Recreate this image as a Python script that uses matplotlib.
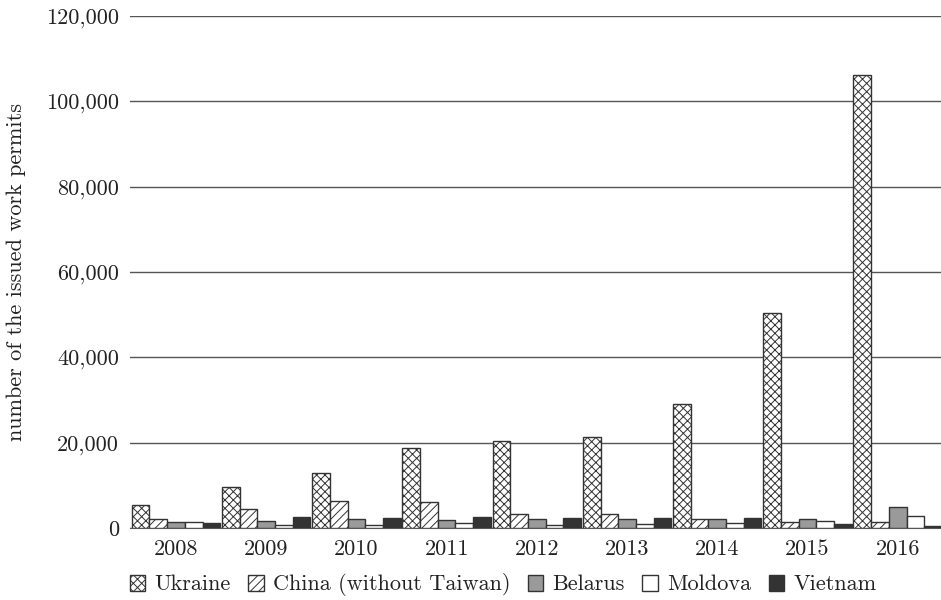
import matplotlib
matplotlib.use('Agg')
import matplotlib.pyplot as plt
import numpy as np
from matplotlib.ticker import FuncFormatter

years = ['2008', '2009', '2010', '2011', '2012', '2013', '2014', '2015', '2016']
ukraine = [5400, 9600, 13000, 18650, 20400, 21300, 29000, 50400, 106200]
china = [2100, 4500, 6300, 6000, 3300, 3300, 2200, 1500, 1500]
belarus = [1400, 1700, 2200, 1950, 2200, 2200, 2200, 2200, 5000]
moldova = [1400, 700, 700, 1150, 700, 950, 1150, 1700, 2900]
vietnam = [1150, 2650, 2400, 2650, 2400, 2400, 2400, 950, 500]

plt.rcParams['font.family'] = ['cmr10', 'DejaVu Serif']
plt.rcParams['axes.formatter.use_mathtext'] = True
plt.rcParams['hatch.color'] = '#555555'
plt.rcParams['hatch.linewidth'] = 0.7

fig = plt.figure(figsize=(9.41, 6), dpi=100)
ax = fig.add_axes([130/941, 72/600, 811/941, 512/600])

x = np.arange(len(years))
w = 0.196
series = [
    ('Ukraine', ukraine, 'white', 'xxxx'),
    ('China (without Taiwan)', china, 'white', '////'),
    ('Belarus', belarus, '#9a9a9a', None),
    ('Moldova', moldova, 'white', None),
    ('Vietnam', vietnam, '#333333', None),
]
for i, (name, vals, col, hatch) in enumerate(series):
    ax.bar(x + (i - 2) * w, vals, w, color=col, hatch=hatch,
           edgecolor='#333333', linewidth=1.0, label=name, zorder=3)

ax.set_ylim(0, 120000)
ax.set_xlim(-0.51, 8.48)
ax.set_yticks(np.arange(0, 120001, 20000))
ax.yaxis.set_major_formatter(FuncFormatter(lambda v, p: f'{int(v):,}'))
ax.set_xticks(x)
ax.set_xticklabels(years)
ax.grid(axis='y', color='#555555', linewidth=1.0, zorder=0)
for s in ['top', 'right', 'left']:
    ax.spines[s].set_visible(False)
ax.spines['bottom'].set_color('#555555')
ax.tick_params(axis='both', length=0, labelsize=16, colors='#222222')
ax.tick_params(axis='y', pad=8)
ax.tick_params(axis='x', pad=8)
ax.set_ylabel('number of the issued work permits', fontsize=16, color='#222222', labelpad=14)

fig.legend(loc='center', bbox_to_anchor=(503/941, 1 - 585/600), ncol=5, frameon=False,
           fontsize=16, handlelength=0.7, handleheight=0.7, handletextpad=0.4,
           columnspacing=0.8, labelcolor='#222222', borderaxespad=0)

plt.savefig('out.png', dpi=100)
